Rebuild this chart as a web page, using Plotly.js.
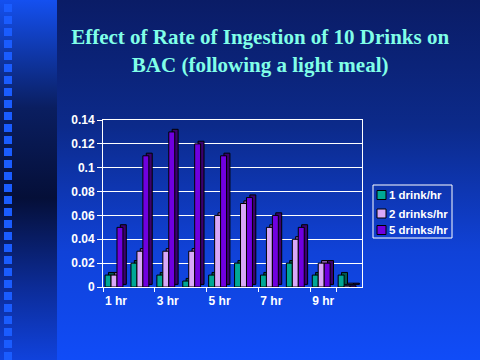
<!DOCTYPE html>
<html>
<head>
<meta charset="utf-8">
<script src="https://cdn.plot.ly/plotly-3.0.1.min.js"></script>
<style>
  html, body { margin: 0; padding: 0; }
  body { width: 480px; height: 360px; overflow: hidden;
         background: linear-gradient(to bottom, #0a1c66 0%, #0c2a8a 35%, #1042d8 70%, #104cf8 100%); }
  #strip { position: absolute; left: 0; top: 0; width: 57px; height: 360px;
           background: linear-gradient(to bottom, #1450f0 0%, #0a1e60 30%, #050f38 55%, #0c2c98 80%, #1042dc 100%); }
  #chart { position: absolute; left: 0; top: 0; width: 480px; height: 360px; }
</style>
</head>
<body>
<div id="strip"></div>
<div id="chart"></div>
<script>
const categories = ["1 hr", "2 hr", "3 hr", "4 hr", "5 hr", "6 hr", "7 hr", "8 hr", "9 hr", "10 hr"];
const shownTicks = ["1 hr", "3 hr", "5 hr", "7 hr", "9 hr"];
const oneDrink  = [0.01, 0.02, 0.01, 0.005, 0.01, 0.02, 0.01, 0.02, 0.01, 0.01];
const twoDrinks = [0.01, 0.03, 0.03, 0.03, 0.06, 0.07, 0.05, 0.04, 0.02, 0.001];
const fiveDrinks = [0.05, 0.11, 0.13, 0.12, 0.11, 0.075, 0.06, 0.05, 0.02, 0.001];
const seriesNames = ["1 drink/hr", "2 drinks/hr", "5 drinks/hr"];
const seriesColors = ["#00a896", "#d8a8f8", "#7000e0"];
const sideColors = ["#005a50", "#8a5aaa", "#3a0070"];
const yTicks = [0, 0.02, 0.04, 0.06, 0.08, 0.1, 0.12, 0.14];
const yTickText = ["0", "0.02", "0.04", "0.06", "0.08", "0.1", "0.12", "0.14"];

const values = [oneDrink, twoDrinks, fiveDrinks];
const barW = 0.23, depthX = 0.13, depthY = 0.0022, start = -0.42;

const traces = [];
// depth (side/top) faces, drawn first
values.forEach((v, i) => {
  traces.push({
    type: "bar", x: categories, y: v, base: depthY,
    offset: start + i * barW + depthX, width: barW,
    marker: { color: sideColors[i], line: { color: "#000000", width: 1 } },
    showlegend: false, hoverinfo: "skip"
  });
});
// front faces
values.forEach((v, i) => {
  traces.push({
    type: "bar", x: categories, y: v, name: seriesNames[i],
    offset: start + i * barW, width: barW,
    marker: { color: seriesColors[i], line: { color: "#000000", width: 1 } },
    showlegend: false
  });
});

const px = p => (p - 103) / 259;
const py = p => (287 - p) / 167;

const shapes = [];
// decorative squares on the left strip
for (let k = 0; k < 30; k++) {
  const y0 = 4 + k * 12;
  shapes.push({
    type: "rect", xref: "paper", yref: "paper", layer: "below",
    x0: px(4), x1: px(12), y0: py(y0), y1: py(y0 + 8),
    fillcolor: "#1a5cff", line: { width: 0 }
  });
}
// legend box
shapes.push({
  type: "rect", xref: "paper", yref: "paper",
  x0: px(373), x1: px(452), y0: py(185), y1: py(238),
  fillcolor: "rgba(0,0,0,0)", line: { color: "#ffffff", width: 1 }
});
const annotations = [];
const rowY = [195, 213.5, 230];
seriesNames.forEach((n, i) => {
  shapes.push({
    type: "rect", xref: "paper", yref: "paper",
    x0: px(377), x1: px(386), y0: py(rowY[i] - 4.5), y1: py(rowY[i] + 4.5),
    fillcolor: seriesColors[i], line: { color: "#000000", width: 1 }
  });
  annotations.push({
    xref: "paper", yref: "paper", x: px(387), y: py(rowY[i]),
    xanchor: "left", yanchor: "middle", showarrow: false, text: n,
    font: { family: "Liberation Sans, Arial, sans-serif", size: 11.5, color: "#ffffff", weight: "bold" }
  });
});

const layout = {
  width: 480, height: 360,
  margin: { l: 103, r: 118, t: 120, b: 73 },
  paper_bgcolor: "rgba(0,0,0,0)",
  plot_bgcolor: "rgba(0,0,0,0)",
  barmode: "overlay",
  showlegend: false,
  title: {
    text: "Effect of Rate of Ingestion of 10 Drinks on<br>BAC (following a light meal)",
    font: { family: "Liberation Serif, Times New Roman, serif", size: 21, color: "#80ffe8", weight: "bold" },
    x: 0.542, xref: "container", xanchor: "center",
    y: 0.877, yref: "container", yanchor: "middle"
  },
  xaxis: {
    type: "category",
    tickmode: "array",
    tickvals: shownTicks,
    ticktext: shownTicks,
    tickangle: 0,
    ticklabelstandoff: 3,
    tickfont: { family: "Liberation Sans, Arial, sans-serif", size: 12, color: "#ffffff", weight: "bold" },
    showline: true, linecolor: "#ffffff", linewidth: 1, mirror: true,
    ticks: "outside", tickcolor: "#ffffff", ticklen: 4, tickson: "boundaries",
    showgrid: false, zeroline: false
  },
  yaxis: {
    range: [0, 0.14],
    tickmode: "array",
    tickvals: yTicks,
    ticktext: yTickText,
    tickfont: { family: "Liberation Sans, Arial, sans-serif", size: 12, color: "#ffffff", weight: "bold" },
    showline: true, linecolor: "#ffffff", linewidth: 1, mirror: true,
    ticks: "outside", tickcolor: "#ffffff", ticklen: 5,
    showgrid: true, gridcolor: "#ffffff", gridwidth: 1,
    zeroline: false
  },
  shapes: shapes,
  annotations: annotations
};

Plotly.newPlot("chart", traces, layout, { displayModeBar: false, staticPlot: true });
</script>
</body>
</html>
